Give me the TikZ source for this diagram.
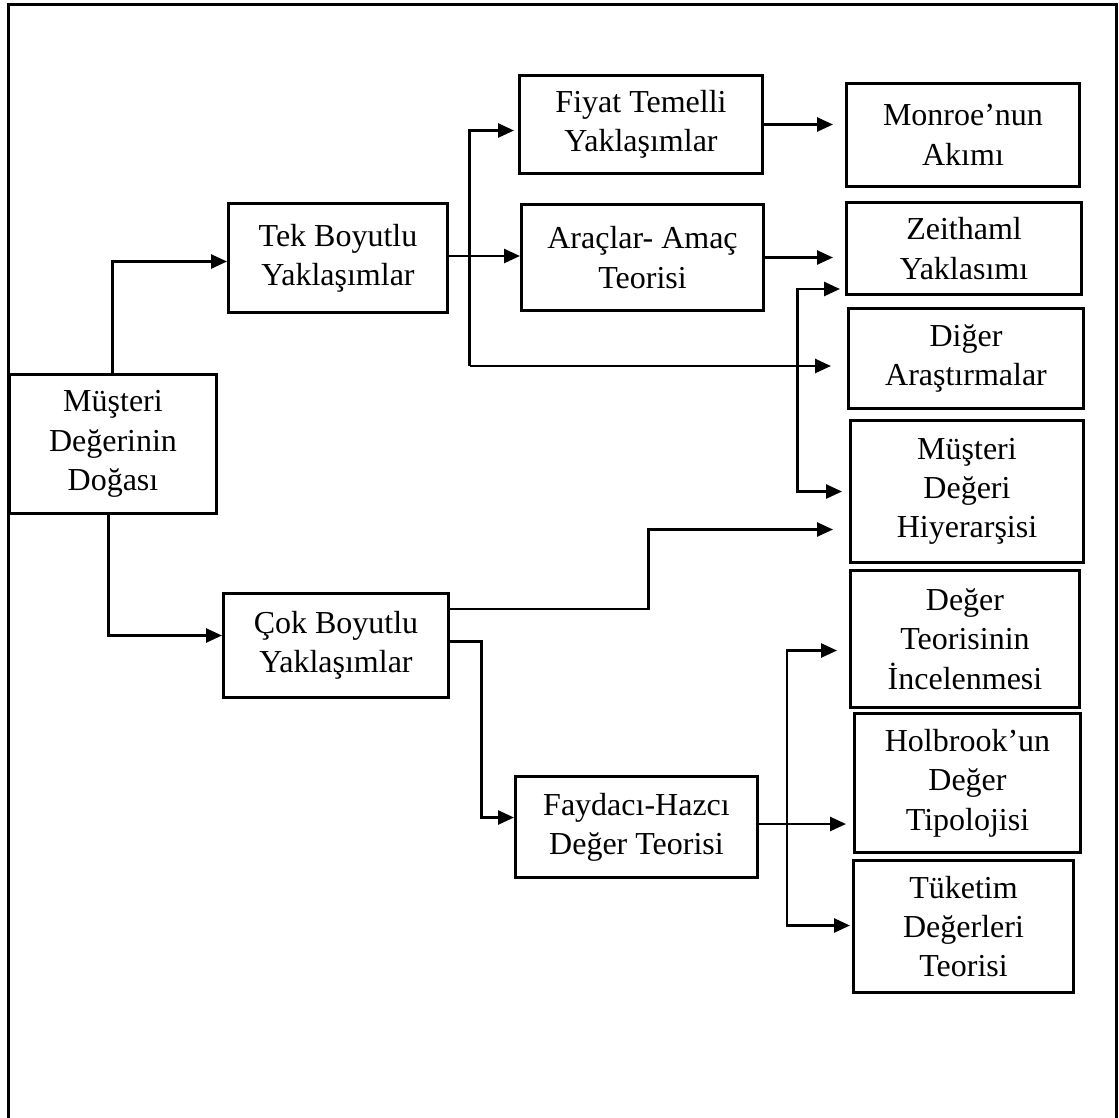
\documentclass[tikz,border=0pt]{standalone}
\usepackage{fontspec}
\setmainfont{Liberation Serif}
\usetikzlibrary{arrows.meta}

\tikzset{
  box/.style={draw, line width=3pt, align=center, inner sep=0pt, anchor=north west,
    font=\fontsize{32}{39.3}\selectfont},
  link/.style={line width=2.6pt},
  arr/.style={link, -{Triangle[length=16pt, width=14pt]}},
  twoarr/.style={link, {Triangle[length=16pt, width=14pt]}-{Triangle[length=16pt, width=14pt]}},
  frame/.style={line width=3pt}
}

\begin{document}
\begin{tikzpicture}[x=1pt, y=-1pt]
\useasboundingbox (0,0) rectangle (1119,1117);

% open outer frame
\draw[frame] (8,1125) -- (8,4.3) -- (1116.5,4.3) -- (1116.5,1125);

% boxes
\node[box, minimum width=207pt, minimum height=139pt] (root) at (8,373) {Müşteri\\Değerinin\\Doğası};
\node[box, minimum width=219pt, minimum height=109pt] (tek) at (227,202) {Tek Boyutlu\\Yaklaşımlar};
\node[box, minimum width=225pt, minimum height=104pt] (cok) at (222,592) {Çok Boyutlu\\Yaklaşımlar};
\node[box, minimum width=243pt, minimum height=98pt] (fiyat) at (518,74) {Fiyat Temelli\\Yaklaşımlar};
\node[box, minimum width=242pt, minimum height=106pt] (arac) at (520,203) {Araçlar- Amaç\\Teorisi};
\node[box, minimum width=242pt, minimum height=101pt] (fayd) at (514,775) {Faydacı-Hazcı\\Değer Teorisi};
\node[box, minimum width=233pt, minimum height=103pt] (monroe) at (845,82) {Monroe’nun\\Akımı};
\node[box, minimum width=235pt, minimum height=92pt] (zeit) at (845,201) {Zeithaml\\Yaklasımı};
\node[box, minimum width=235pt, minimum height=100pt] (diger) at (847,307) {Diğer\\Araştırmalar};
\node[box, minimum width=233pt, minimum height=142pt] (hiyer) at (849,419) {Müşteri\\Değeri\\Hiyerarşisi};
\node[box, minimum width=229pt, minimum height=137pt] (degteo) at (849,569) {Değer\\Teorisinin\\İncelenmesi};
\node[box, minimum width=226pt, minimum height=139pt] (holb) at (853,712) {Holbrook’un\\Değer\\Tipolojisi};
\node[box, minimum width=220pt, minimum height=132pt] (tuket) at (852,859) {Tüketim\\Değerleri\\Teorisi};

% root to the two branches
\draw[arr] ([xshift=-0.8pt]root.north) |- ([yshift=-3.5pt]tek.west);
\draw[arr] ([xshift=-4.5pt]root.south) |- ([yshift=10pt]cok.west);

% one-dimensional branch
\draw[arr] ([yshift=2pt]tek.east) -- ([yshift=2pt]tek.east -| arac.west);
\coordinate (b1) at (469.5,366);
\draw[arr, shorten >=4pt] (b1) |- ([yshift=-6pt]fiyat.west);
\draw[arr, shorten >=16pt] (b1) -- (b1 -| diger.west);
\draw[arr, shorten >=12pt] (fiyat.east) -- (fiyat.east -| monroe.west);
\draw[arr, shorten >=12pt] (arac.east) -- (arac.east -| zeit.west);
\draw[twoarr, shorten <=5pt, shorten >=7pt]
  ([yshift=7pt]zeit.south west) -- ++(-47.5,0) |- (hiyer.west);

% multi-dimensional branch
\draw[arr, shorten >=16pt] ([yshift=36.5pt]cok.east) -- ++(198.7,0) |- ([yshift=-38pt]hiyer.west);
\draw[arr] ([yshift=4pt]cok.east) -- ++(31.6,0) |- ([yshift=9.5pt]fayd.west);
\draw[arr, shorten >=7pt] ([yshift=3pt]fayd.east) -- ([yshift=3pt]fayd.east -| holb.west);
\draw[twoarr, shorten <=12pt, shorten >=2pt]
  ([yshift=-11.5pt]degteo.west) -- ++(-62.2,0) |- ([yshift=1pt]tuket.west);
\end{tikzpicture}
\end{document}
